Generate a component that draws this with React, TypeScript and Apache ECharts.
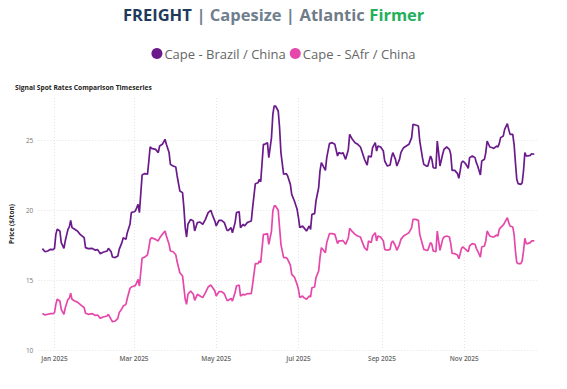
import React, { useEffect, useRef } from "react";
import * as echarts from "echarts";

// Axis range (calendar days)
const axisStart = "2024-12-20";
const axisEnd = "2025-12-25";

// Sampled observation dates
const dates = [
  "2024-12-23","2024-12-25","2024-12-27","2024-12-29","2024-12-31",
  "2025-01-01","2025-01-02","2025-01-03","2025-01-05","2025-01-06","2025-01-08","2025-01-09","2025-01-11","2025-01-12","2025-01-13","2025-01-14","2025-01-16","2025-01-18","2025-01-20","2025-01-23","2025-01-24","2025-01-26","2025-01-29","2025-01-31",
  "2025-02-02","2025-02-04","2025-02-06","2025-02-09","2025-02-10","2025-02-12","2025-02-13","2025-02-15","2025-02-17","2025-02-18","2025-02-20","2025-02-21","2025-02-23","2025-02-24","2025-02-26","2025-02-27",
  "2025-03-01","2025-03-02","2025-03-04","2025-03-05","2025-03-07","2025-03-09","2025-03-11","2025-03-12","2025-03-13","2025-03-14","2025-03-17","2025-03-19","2025-03-20","2025-03-22","2025-03-24","2025-03-25","2025-03-27","2025-03-28","2025-03-30",
  "2025-04-01","2025-04-02","2025-04-04","2025-04-06","2025-04-07","2025-04-08","2025-04-09","2025-04-10","2025-04-12","2025-04-14","2025-04-15","2025-04-17","2025-04-19","2025-04-21","2025-04-23","2025-04-25","2025-04-27","2025-04-28","2025-04-30",
  "2025-05-01","2025-05-03","2025-05-05","2025-05-07","2025-05-09","2025-05-10","2025-05-12","2025-05-13","2025-05-15","2025-05-16","2025-05-18","2025-05-19","2025-05-21","2025-05-22","2025-05-24","2025-05-25","2025-05-27","2025-05-28","2025-05-30",
  "2025-06-01","2025-06-02","2025-06-03","2025-06-05","2025-06-06","2025-06-08","2025-06-09","2025-06-11","2025-06-12","2025-06-13","2025-06-14","2025-06-16","2025-06-17","2025-06-18","2025-06-20","2025-06-22","2025-06-23","2025-06-25","2025-06-26","2025-06-28","2025-06-30",
  "2025-07-01","2025-07-02","2025-07-04","2025-07-05","2025-07-07","2025-07-09","2025-07-10","2025-07-11","2025-07-13","2025-07-14","2025-07-16","2025-07-17","2025-07-18","2025-07-19","2025-07-21","2025-07-22","2025-07-24","2025-07-26","2025-07-28","2025-07-30","2025-07-31",
  "2025-08-02","2025-08-03","2025-08-05","2025-08-07","2025-08-08","2025-08-10","2025-08-12","2025-08-14","2025-08-16","2025-08-17","2025-08-19","2025-08-21","2025-08-22","2025-08-24","2025-08-25","2025-08-27","2025-08-28","2025-08-29","2025-08-31",
  "2025-09-02","2025-09-03","2025-09-05","2025-09-07","2025-09-08","2025-09-09","2025-09-11","2025-09-12","2025-09-14","2025-09-15","2025-09-17","2025-09-19","2025-09-21","2025-09-23","2025-09-24","2025-09-26","2025-09-28","2025-09-29",
  "2025-10-01","2025-10-02","2025-10-04","2025-10-05","2025-10-07","2025-10-08","2025-10-09","2025-10-11","2025-10-12","2025-10-13","2025-10-14","2025-10-16","2025-10-17","2025-10-19","2025-10-21","2025-10-22","2025-10-23","2025-10-25","2025-10-27","2025-10-28","2025-10-29","2025-10-30","2025-10-31",
  "2025-11-02","2025-11-04","2025-11-05","2025-11-07","2025-11-09","2025-11-10","2025-11-11","2025-11-13","2025-11-14","2025-11-16","2025-11-17","2025-11-18","2025-11-20","2025-11-22","2025-11-23","2025-11-25","2025-11-26","2025-11-27","2025-11-28","2025-11-30",
  "2025-12-01","2025-12-03","2025-12-04","2025-12-05","2025-12-07","2025-12-08","2025-12-09","2025-12-10","2025-12-11","2025-12-13","2025-12-14","2025-12-15","2025-12-16","2025-12-17","2025-12-18","2025-12-20","2025-12-21","2025-12-23"
];

const brazilChina = [
  17.24,17.02,17.07,17.19,17.17,
  17.26,18.26,18.62,18.5,17.67,17.26,17.8,18.62,18.79,19.26,18.74,18.62,18.5,18.26,18.02,17.31,17.24,17.26,17.14,
  17.17,16.88,16.98,17.07,17.26,17.02,16.64,16.6,16.71,17.19,17.67,18.02,17.9,18.38,18.98,19.81,
  19.88,19.93,20.4,19.81,22.5,22.6,22.55,23.5,24.52,24.4,24.33,24.1,24.57,24.69,25.05,24.69,24.1,23.26,23.14,
  23.07,22.43,21.36,21.24,20.17,18.74,18.07,18.98,19.33,19.21,18.5,19.1,19.14,18.98,19.33,19.81,19.98,19.69,19.21,
  18.86,19.26,19.26,19.1,18.55,18.55,18.74,18.38,19.1,19.81,19.88,18.74,18.98,18.86,19.1,19.14,19.21,20.17,21.88,
  21.95,22.19,22.02,24.69,24.69,24.81,23.74,25.17,26.83,27.43,27.43,27.07,25.88,24.1,22.55,22.6,22.43,21.83,21.12,20.64,20.05,
  19.45,18.74,18.86,18.74,18.5,18.86,18.62,19.69,19.74,20.64,21.6,22.79,23.38,23.21,22.83,23.74,24.74,24.81,24.69,23.86,24.1,
  24.02,24.1,23.62,24.3,25.4,25.05,24.81,24.69,24.5,24.21,23.62,23.21,23.86,23.79,24.45,24.81,24.21,24.57,24.5,
  24.21,23.5,23.14,23.21,23.74,24.1,23.62,23.14,23.62,24.1,24.45,24.57,24.69,25.17,26.12,26.07,26.0,24.93,
  23.74,23.26,23.14,23.14,23.86,23.62,23.02,22.98,24.93,24.1,23.14,23.98,24.33,24.5,24.33,23.98,22.83,22.83,22.6,22.26,22.79,23.38,23.5,
  23.31,22.98,23.74,23.86,23.74,23.38,23.14,22.5,23.5,23.62,24.1,24.93,24.5,24.45,24.4,24.57,24.5,24.74,25.17,25.29,
  25.76,26.17,25.76,25.4,25.4,24.69,23.38,22.19,21.88,21.83,21.95,22.79,24.1,23.86,23.86,23.9,24.02,23.98
];

const safrChina = [
  12.6,12.5,12.55,12.6,12.6,
  12.67,13.26,13.62,13.5,12.9,12.55,13.02,13.62,13.69,14.05,13.62,13.5,13.42,13.26,13.02,12.62,12.55,12.6,12.48,
  12.5,12.26,12.36,12.43,12.55,12.19,12.02,12.07,12.26,12.67,12.95,13.14,13.26,13.7,14.4,14.5,
  14.57,14.6,15.05,14.57,16.55,16.64,16.79,17.3,17.9,18.02,17.9,17.79,18.0,18.26,18.5,18.14,17.55,17.07,17.02,
  16.8,16.3,15.52,15.29,14.45,13.62,13.26,13.98,14.21,13.98,13.55,13.98,13.86,13.74,14.1,14.5,14.64,14.5,14.21,
  13.86,14.17,14.17,14.02,13.55,13.55,13.69,13.5,14.1,14.57,14.64,13.86,13.98,13.93,14.02,14.02,14.02,14.69,16.17,
  16.17,16.36,16.24,18.26,18.26,18.31,17.55,18.5,19.93,20.29,20.29,19.98,18.74,17.55,16.6,16.6,16.48,16.07,15.4,15.21,14.69,
  14.33,13.74,13.86,13.74,13.62,13.86,13.79,14.45,14.5,15.17,15.64,16.6,17.31,17.19,16.95,17.67,18.31,18.31,18.26,17.6,17.79,
  17.79,17.83,17.55,18.0,18.69,18.45,18.26,18.14,18.07,17.79,17.31,17.12,17.79,17.67,18.14,18.38,17.79,18.14,18.07,
  17.79,17.19,17.12,17.19,17.67,17.79,17.43,17.12,17.55,17.9,18.14,18.26,18.38,18.74,19.33,19.33,19.26,18.26,
  17.55,17.19,17.12,17.12,17.67,17.55,17.07,17.02,18.5,17.79,17.12,17.9,18.07,18.14,18.07,17.6,16.9,16.88,16.79,16.52,16.88,17.26,17.36,
  17.19,17.02,17.43,17.6,17.55,17.26,17.07,16.64,17.36,17.43,17.79,18.5,18.14,18.07,18.07,18.21,18.14,18.62,18.74,18.93,
  19.1,19.45,19.1,18.86,18.79,18.26,17.07,16.24,16.17,16.17,16.36,17.07,17.98,17.6,17.6,17.67,17.79,17.79
];

const seriesNames = ["Cape - Brazil / China", "Cape - SAfr / China"];
const yTicks = [10, 15, 20, 25];
const labelMonths = [0, 2, 4, 6, 8, 10];
const monthNames = ["Jan","Feb","Mar","Apr","May","Jun","Jul","Aug","Sep","Oct","Nov","Dec"];

function buildCategories(): string[] {
  const out: string[] = [];
  const s = new Date(axisStart + "T00:00:00Z").getTime();
  const e = new Date(axisEnd + "T00:00:00Z").getTime();
  for (let t = s; t <= e; t += 86400000) {
    out.push(new Date(t).toISOString().slice(0, 10));
  }
  return out;
}

export default function App() {
  const ref = useRef<HTMLDivElement>(null);
  useEffect(() => {
    if (!ref.current) return;
    const chart = echarts.init(ref.current, null, { renderer: "svg" });
    const cats = buildCategories();
    const idx: Record<string, number> = {};
    cats.forEach((c, i) => (idx[c] = i));
    const align = (vals: number[]) => {
      const arr: (number | null)[] = cats.map(() => null);
      dates.forEach((d, i) => {
        if (idx[d] !== undefined) arr[idx[d]] = vals[i];
      });
      return arr;
    };
    const isMonthTick = (_i: number, v: string) => {
      const m = parseInt(v.slice(5, 7), 10) - 1;
      return v.slice(8, 10) === "01" && labelMonths.indexOf(m) >= 0;
    };
    const font = "'Open Sans', 'Noto Sans', sans-serif";
    chart.setOption({
      animation: false,
      textStyle: { fontFamily: font },
      title: [
        {
          text: "{a|FREIGHT} {b|| Capesize |} {c|Atlantic} {d|Firmer}",
          left: 118,
          top: 0,
          textStyle: {
            rich: {
              a: { fontSize: 16.5, fontWeight: "bold", color: "#1f3b5c", fontFamily: font },
              b: { fontSize: 16.5, fontWeight: "bold", color: "#6f7f8f", fontFamily: font },
              c: { fontSize: 16.5, fontWeight: "bold", color: "#6f7c88", fontFamily: font },
              d: { fontSize: 16.5, fontWeight: "bold", color: "#22b05a", fontFamily: font },
            },
          },
        },
        {
          text: "Signal Spot Rates Comparison Timeseries",
          left: 10,
          top: 79,
          textStyle: { fontSize: 6.7, fontWeight: "bold", color: "#252423", fontFamily: font },
        },
      ],
      legend: {
        top: 42,
        left: "center",
        icon: "circle",
        itemWidth: 11,
        itemHeight: 11,
        itemGap: 4,
        textStyle: { fontSize: 13, color: "#666666", fontFamily: font, padding: [0, 0, 0, -3] },
        data: seriesNames,
      },
      grid: { left: 27, right: 30, top: 98, bottom: 39, containLabel: false },
      xAxis: {
        type: "category",
        data: cats,
        boundaryGap: false,
        axisLine: { show: false },
        axisTick: { show: false },
        axisLabel: {
          interval: isMonthTick,
          fontSize: 6.5,
          color: "#666666",
          fontWeight: 600,
          margin: 5,
          formatter: (v: string) => monthNames[parseInt(v.slice(5, 7), 10) - 1] + " " + v.slice(0, 4),
        },
        splitLine: {
          show: true,
          interval: isMonthTick,
          lineStyle: { color: "#e3e3e3", type: [1, 2], width: 1 },
        },
      },
      yAxis: {
        type: "value",
        min: yTicks[0],
        max: 28,
        interval: 5,
        name: "Price ($/ton)",
        nameLocation: "middle",
        nameGap: 10,
        nameTextStyle: { fontSize: 6.5, color: "#252423", fontWeight: "bold" },
        axisLine: { show: false },
        axisTick: { show: false },
        axisLabel: {
          fontSize: 6.5,
          color: "#777777",
          margin: 5,
          showMaxLabel: false,
          formatter: (v: number) => (yTicks.indexOf(v) >= 0 ? String(v) : ""),
        },
        splitLine: {
          show: true,
          showMaxLine: false,
          lineStyle: { color: "#e3e3e3", type: [1, 2], width: 1 },
        },
      },
      series: [
        {
          name: seriesNames[0],
          type: "line",
          data: align(brazilChina),
          connectNulls: true,
          showSymbol: false,
          color: "#6b1a8b",
          lineStyle: { width: 1.7 },
        },
        {
          name: seriesNames[1],
          type: "line",
          data: align(safrChina),
          connectNulls: true,
          showSymbol: false,
          color: "#e548aa",
          lineStyle: { width: 1.7 },
        },
      ],
    });
    return () => chart.dispose();
  }, []);
  return <div ref={ref} style={{ width: 567, height: 389, margin: -8 }} />;
}
